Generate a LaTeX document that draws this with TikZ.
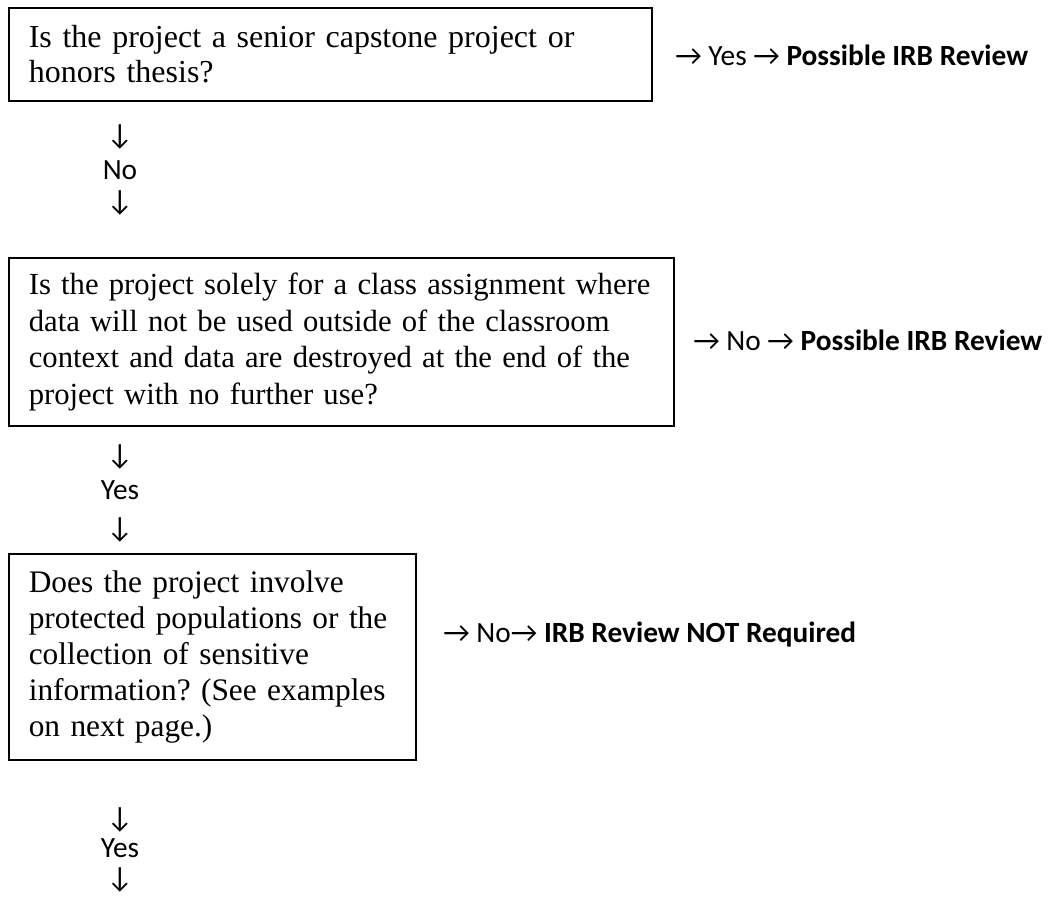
\documentclass[tikz,border=0pt]{standalone}
\usepackage{fontspec}
\setmainfont{Liberation Serif}
\newfontfamily\calibri{Carlito}
\usetikzlibrary{positioning}
\frenchspacing

\tikzset{
	question/.style={draw, line width=1.2pt, anchor=north west, align=left,
		inner xsep=15pt, inner ysep=0pt, font=\fontsize{23.5}{27}\selectfont},
	answer/.style={anchor=west, inner sep=0pt, font=\calibri\fontsize{22}{26}\selectfont},
	flow/.style={inner sep=0pt, font=\calibri\fontsize{22}{26}\selectfont}
}

\begin{document}
\begin{tikzpicture}[x=0.75pt, y=-0.75pt]
			\useasboundingbox (0,0) rectangle (1060,896);
			% first question
			\node[question, font=\fontsize{24}{26.5}\selectfont, text width=452.5pt, minimum height=69.75pt] (capstone) at (8,7)
				{Is the project a senior capstone project or\\honors thesis?};
			\node[answer] (capstoneyes) at (675,55) {→ Yes → \textbf{Possible IRB Review}};
			\node[flow] (arrowa) at (120,137) {↓};
			\node[flow] (noa) at (120,170) {No};
			\node[flow] (arrowb) at (120,203) {↓};
			% second question
			\node[question, font=\fontsize{23}{27.5}\selectfont, text width=469pt, minimum height=126pt] (classwork) at (8,257)
				{Is the project solely for a class assignment where\\data will not be used outside of the classroom\\context and data are destroyed at the end of the\\project with no further use?};
			\node[answer] (classworkno) at (693,340) {→ No → \textbf{Possible IRB Review}};
			\node[flow] (arrowc) at (120,457) {↓};
			\node[flow] (yesa) at (120,490) {Yes};
			\node[flow] (arrowd) at (120,530) {↓};
			% third question
			\node[question, text width=275.5pt, minimum height=154.5pt] (sensitive) at (8,553)
				{Does the project involve\\protected populations or the\\collection of sensitive\\information? (See examples\\on next page.)};
			\node[answer] (sensitiveno) at (443,635) {→ No→ \textbf{IRB Review NOT Required}};
			\node[flow] (arrowe) at (120,820) {↓};
			\node[flow] (yesb) at (120,848) {Yes};
			\node[flow] (arrowf) at (120,880) {↓};
\end{tikzpicture}
\end{document}
